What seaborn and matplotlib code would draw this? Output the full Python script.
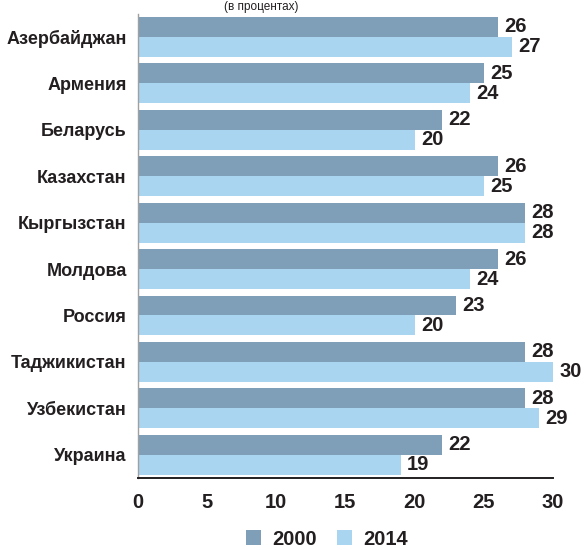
import matplotlib
matplotlib.use('Agg')
import matplotlib.pyplot as plt
import numpy as np
import pandas as pd
import seaborn as sns
from matplotlib.ticker import FixedLocator

# data
countries = ['Азербайджан', 'Армения', 'Беларусь', 'Казахстан', 'Кыргызстан',
             'Молдова', 'Россия', 'Таджикистан', 'Узбекистан', 'Украина']
vals_2000 = [26, 25, 22, 26, 28, 26, 23, 28, 28, 22]
vals_2014 = [27, 24, 20, 25, 28, 24, 20, 30, 29, 19]
years = ['2000', '2014']
colors = ['#7F9EB7', '#A9D5F0']

df = pd.DataFrame({
    'country': countries * 2,
    'value': vals_2000 + vals_2014,
    'year': [years[0]] * len(countries) + [years[1]] * len(countries),
})

sns.set_style('white')
plt.rcParams['font.family'] = ['Liberation Sans', 'DejaVu Sans']
plt.rcParams['font.weight'] = 'bold'

fig = plt.figure(figsize=(5.84, 5.5), dpi=100)
ax = fig.add_axes([0.236, 0.131, 0.711, 0.844])

sns.barplot(data=df, y='country', x='value', hue='year', orient='h',
            palette=colors, width=0.86, saturation=1, linewidth=0, ax=ax,
            legend=True)

for cont in ax.containers:
    ax.bar_label(cont, padding=4.5, fontsize=14.5, fontweight='bold', color='#231F20')

ax.set_xlim(0, 30)
ax.set_ylim(9.5, -0.5)
ax.set_xticks(range(0, 31, 5))
ax.set_xlabel('')
ax.set_ylabel('')
ax.tick_params(axis='x', direction='inout', length=9, width=1.2, color='#231F20',
               labelsize=14.5, pad=6, labelcolor='#231F20')
ax.tick_params(axis='y', which='major', length=0, labelsize=13, pad=8,
               labelcolor='#231F20')
ax.yaxis.set_minor_locator(FixedLocator(np.arange(-0.5, 10, 1)))
ax.tick_params(axis='y', which='minor', direction='out', length=5, width=1.2,
               color='#231F20')
for lab in ax.get_xticklabels() + ax.get_yticklabels():
    lab.set_fontweight('bold')

for s in ['top', 'right']:
    ax.spines[s].set_visible(False)
ax.spines['left'].set_color('#A0A0A0')
ax.spines['left'].set_linewidth(1.0)
ax.spines['bottom'].set_color('#231F20')
ax.spines['bottom'].set_linewidth(1.4)

leg = ax.legend(loc='center', bbox_to_anchor=(0.455, -0.132), ncol=2,
                frameon=False, fontsize=14.5, handlelength=0.75, handleheight=0.75,
                columnspacing=1.0, handletextpad=0.55, borderpad=0.2)
for t in leg.get_texts():
    t.set_fontweight('bold')
    t.set_color('#231F20')

# title, mostly hidden above the plot in the source image
fig.text(0.447, 1 - 1.0 / 550, '(в процентах)', ha='center', va='top',
         fontsize=8.5, fontweight='normal', color='#231F20')

fig.savefig('out.png', dpi=100)
